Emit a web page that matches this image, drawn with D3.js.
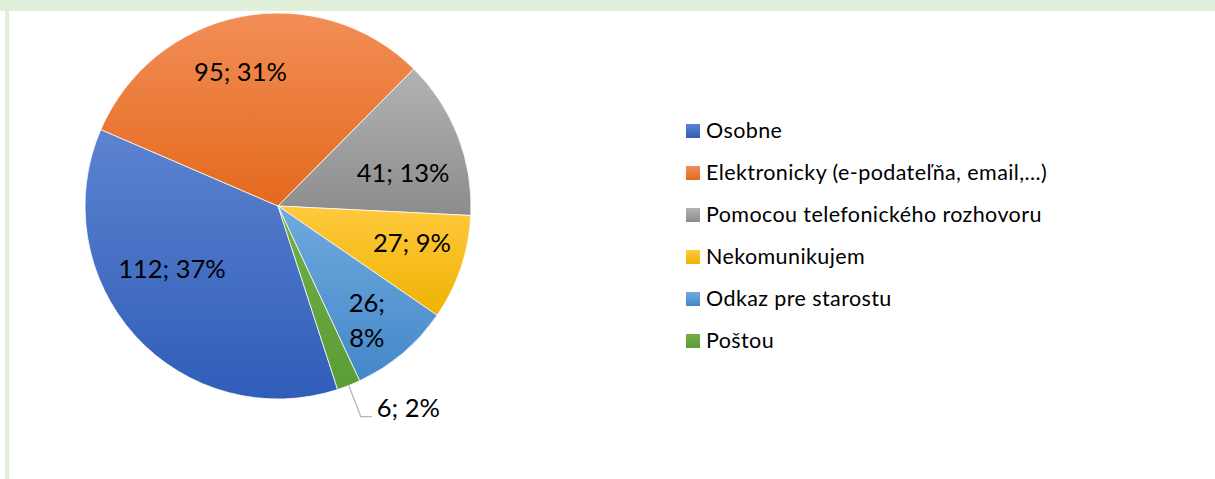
<!DOCTYPE html>
<html lang="sk">
<head>
  <meta charset="UTF-8">
  <title>Komunikácia</title>
  <style>
    body { margin: 0; background: #fff; }
    svg { display: block; font-family: Lato, "Open Sans", sans-serif; }
  </style>
</head>
<body>

<svg id="chart" width="1215" height="479"></svg>

<script src="https://cdn.jsdelivr.net/npm/d3@7"></script>

<script>
/* global d3 */

// data
var categories = ["Osobne", "Elektronicky (e-podateľňa, email,...)", "Pomocou telefonického rozhovoru",
  "Nekomunikujem", "Odkaz pre starostu", "Poštou"];
var counts = [112, 95, 41, 27, 26, 6];
var percentLabels = ["37%", "31%", "13%", "9%", "8%", "2%"];

// gradient colours per slice (top, bottom)
var colorsTop = ["#5d83d0", "#f28e57", "#b3b3b3", "#ffc93d", "#70aade", "#72b048"];
var colorsBottom = ["#2f5db8", "#e4691c", "#8c8c8c", "#efb300", "#4487c9", "#5c9c35"];

// excel "best fit" tweaks: [angle offset in deg, radius fraction]
var labelFit = [[11.5, 0.64], [-4.7, 0.72], [6.5, 0.67], [-3.3, 0.72], [2.4, 0.75], null];

var svg = d3.select("#chart"),
  cx = 278, cy = 206, r = 193;

// frame bits
svg.append("rect").attr("x", 0).attr("y", 0).attr("width", 1215).attr("height", 11).attr("fill", "#e2efda");
svg.append("rect").attr("x", 5).attr("y", 11).attr("width", 4).attr("height", 468).attr("fill", "#e2efda");

var defs = svg.append("defs");
categories.forEach(function (c, i) {
  var g = defs.append("linearGradient").attr("id", "grad" + i)
    .attr("x1", 0).attr("y1", 0).attr("x2", 0).attr("y2", 1);
  g.append("stop").attr("offset", "0%").attr("stop-color", colorsTop[i]);
  g.append("stop").attr("offset", "100%").attr("stop-color", colorsBottom[i]);
});

var start = 162 * Math.PI / 180;
var pie = d3.pie().sort(null).value(function (d) { return d; })
  .startAngle(start).endAngle(start + 2 * Math.PI);
var arcs = pie(counts);
var arc = d3.arc().innerRadius(0).outerRadius(r);

var g = svg.append("g").attr("transform", "translate(" + cx + "," + cy + ")");

g.selectAll("path.slice")
  .data(arcs)
  .enter().append("path")
  .attr("class", "slice")
  .attr("d", arc)
  .attr("fill", function (d, i) { return "url(#grad" + i + ")"; })
  .attr("stroke", "#fff")
  .attr("stroke-width", 0.75);

// inside labels
function labelPos(d, i) {
  var f = labelFit[i];
  var a = (d.startAngle + d.endAngle) / 2 + f[0] * Math.PI / 180;
  return [Math.sin(a) * r * f[1], -Math.cos(a) * r * f[1]];
}

arcs.forEach(function (d, i) {
  if (!labelFit[i]) return;
  var p = labelPos(d, i);
  var t = g.append("text")
    .attr("font-size", 25.5)
    .attr("fill", "#000")
    .attr("text-anchor", "middle");
  if (i === 4) {
    // narrow slice: two lines
    t.append("tspan").attr("x", p[0]).attr("y", p[1] - 17.5).attr("dy", "0.35em").text(counts[i] + ";");
    t.append("tspan").attr("x", p[0]).attr("y", p[1] + 17.5).attr("dy", "0.35em").text(percentLabels[i]);
  } else {
    t.attr("x", p[0]).attr("y", p[1]).attr("dy", "0.35em").text(counts[i] + "; " + percentLabels[i]);
  }
});

// outside label with leader line (Poštou)
var small = arcs[5];
var mid = (small.startAngle + small.endAngle) / 2;
var p0 = [Math.sin(mid) * r, -Math.cos(mid) * r];
var p1 = [p0[0] + 12, p0[1] + 31];
var p2 = [p1[0] + 11, p1[1]];
g.append("path")
  .attr("d", d3.line()([p0, p1, p2]))
  .attr("fill", "none")
  .attr("stroke", "#a9b6c8")
  .attr("stroke-width", 1.2);
g.append("text")
  .attr("x", p2[0] + 5).attr("y", p2[1])
  .attr("font-size", 25.5)
  .text(counts[5] + "; " + percentLabels[5]);

// legend
var legend = svg.append("g").attr("transform", "translate(686,130)");
var row = legend.selectAll("g")
  .data(categories)
  .enter().append("g")
  .attr("transform", function (d, i) { return "translate(0," + (i * 42) + ")"; });
row.append("rect")
  .attr("x", 0).attr("y", -6).attr("width", 14).attr("height", 14)
  .attr("fill", function (d, i) { return "url(#grad" + i + ")"; });
row.append("text")
  .attr("x", 20).attr("y", 0).attr("dy", "0.35em")
  .attr("font-size", 21.5)
  .attr("letter-spacing", 0.4)
  .attr("fill", "#000")
  .text(function (d) { return d; });
</script>

</body>
</html>
